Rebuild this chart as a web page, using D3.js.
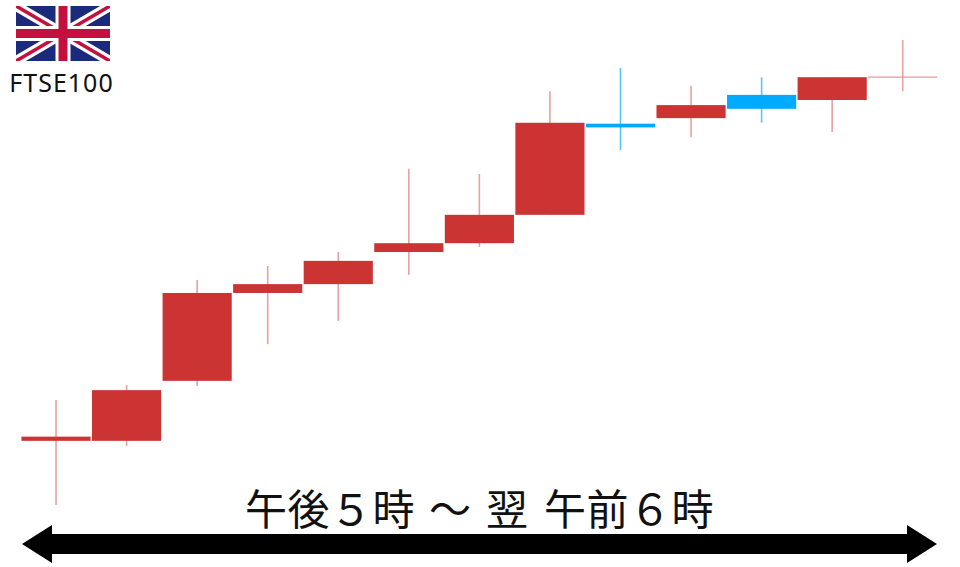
<!DOCTYPE html>
<html>
<head>
<meta charset="utf-8">
<script src="https://cdn.jsdelivr.net/npm/d3@7"></script>
<style>
  html, body { margin: 0; padding: 0; background: #fff; }
</style>
</head>
<body>
<div class="canvas"></div>
<script>
// candle values (index level, no axis in the original)
const categories = ['17', '18', '19', '20', '21', '22', '23', '0', '1', '2', '3', '4', '5'];
const opens  = [13.8, 13.8, 26.7, 45.6, 47.5, 54.4, 56.3, 62.4, 82.0, 83.2, 88.2, 87.1, 92.0];
const closes = [14.7, 24.7, 45.6, 47.5, 52.5, 56.3, 62.4, 82.2, 81.2, 86.0, 85.2, 92.0, 92.0];
const highs  = [22.6, 25.8, 48.4, 51.4, 54.4, 72.3, 71.2, 89.0, 94.0, 90.1, 92.0, 92.0, 100];
const lows   = [0, 12.7, 25.6, 34.6, 39.6, 49.5, 55.5, 62.4, 76.3, 79.1, 82.2, 80.2, 89.0];

const flagLabel = 'FTSE100';
const periodWords = ['午後５時', '～', '翌', '午前６時'];
const periodStarts = [245, 429, 486, 544];

// dimensions
const dims = { width: 960, height: 567 };

// colours
const upColor = '#cc3333';
const downColor = '#00aaff';
const upWick = '#e8a0a0';
const downWick = '#55c6ff';

// svg container
const svg = d3.select('.canvas')
    .append('svg')
    .attr('width', dims.width)
    .attr('height', dims.height)
    .style('display', 'block');

// scales
const x = d3.scaleBand()
    .domain(categories)
    .range([20.75, 938])
    .paddingInner(0.02)
    .paddingOuter(0.01);

const y = d3.scaleLinear()
    .domain([0, 100])
    .range([505, 40]);

const candles = categories.map((c, i) => ({
    cat: c, open: opens[i], close: closes[i], high: highs[i], low: lows[i]
}));

const graph = svg.append('g');

// wicks go under the bodies
graph.selectAll('line.wick')
    .data(candles)
    .enter()
    .append('line')
        .attr('class', 'wick')
        .attr('x1', d => x(d.cat) + x.bandwidth() / 2)
        .attr('x2', d => x(d.cat) + x.bandwidth() / 2)
        .attr('y1', d => y(d.high))
        .attr('y2', d => y(d.low))
        .attr('stroke', d => d.close < d.open ? downWick : upWick)
        .attr('stroke-width', 1.6);

// bodies, a flat candle is only a thin line
graph.selectAll('rect.body')
    .data(candles.filter(d => d.open !== d.close))
    .enter()
    .append('rect')
        .attr('class', 'body')
        .attr('x', d => x(d.cat))
        .attr('width', x.bandwidth())
        .attr('y', d => y(Math.max(d.open, d.close)))
        .attr('height', d => Math.abs(y(d.open) - y(d.close)))
        .attr('fill', d => d.close < d.open ? downColor : upColor);

graph.selectAll('line.flat')
    .data(candles.filter(d => d.open === d.close))
    .enter()
    .append('line')
        .attr('class', 'flat')
        .attr('x1', d => x(d.cat))
        .attr('x2', d => x(d.cat) + x.bandwidth())
        .attr('y1', d => y(d.open))
        .attr('y2', d => y(d.open))
        .attr('stroke', '#e39c9c')
        .attr('stroke-width', 1.3);

// union jack
const fw = 94, fh = 55;
const flag = svg.append('g').attr('transform', 'translate(16, 6)');

svg.append('clipPath')
    .attr('id', 'flag-clip')
    .append('rect')
        .attr('width', fw)
        .attr('height', fh);

const flagInner = flag.append('g').attr('clip-path', 'url(#flag-clip)');

flagInner.append('rect').attr('width', fw).attr('height', fh).attr('fill', '#1b2a7b');

const diagonals = [[0, 0, fw, fh], [0, fh, fw, 0]];
flagInner.selectAll('line.white')
    .data(diagonals)
    .enter()
    .append('line')
        .attr('class', 'white')
        .attr('x1', d => d[0]).attr('y1', d => d[1])
        .attr('x2', d => d[2]).attr('y2', d => d[3])
        .attr('stroke', '#fff')
        .attr('stroke-width', 10);
flagInner.selectAll('line.red')
    .data(diagonals)
    .enter()
    .append('line')
        .attr('class', 'red')
        .attr('x1', d => d[0]).attr('y1', d => d[1])
        .attr('x2', d => d[2]).attr('y2', d => d[3])
        .attr('stroke', '#c4103f')
        .attr('stroke-width', 3.6);

flagInner.append('rect').attr('x', fw / 2 - 7.5).attr('width', 15).attr('height', fh).attr('fill', '#fff');
flagInner.append('rect').attr('y', fh / 2 - 7.5).attr('width', fw).attr('height', 15).attr('fill', '#fff');
flagInner.append('rect').attr('x', fw / 2 - 4.5).attr('width', 9).attr('height', fh).attr('fill', '#c4103f');
flagInner.append('rect').attr('y', fh / 2 - 4.5).attr('width', fw).attr('height', 9).attr('fill', '#c4103f');

svg.append('text')
    .attr('x', 61.5)
    .attr('y', 92)
    .attr('text-anchor', 'middle')
    .attr('font-family', '"Noto Sans", sans-serif')
    .attr('font-size', 25)
    .attr('letter-spacing', 1)
    .attr('fill', '#111')
    .text(flagLabel);

// time span label, the gaps are wider than a plain space
svg.append('text')
    .attr('y', 525)
    .attr('font-family', '"Noto Sans CJK JP", sans-serif')
    .attr('font-size', 42)
    .attr('letter-spacing', 0.5)
    .attr('fill', '#111')
    .selectAll('tspan')
    .data(periodWords)
    .enter()
    .append('tspan')
        .attr('x', (d, i) => periodStarts[i])
        .text(d => d);

// double headed arrow under the candles
const ax0 = 22, ax1 = 937, head = 30, headTop = 525, headBot = 563, shaftTop = 534, shaftBot = 554;
const arrow = d3.path();
arrow.moveTo(ax0, (headTop + headBot) / 2);
arrow.lineTo(ax0 + head, headTop);
arrow.lineTo(ax0 + head, shaftTop);
arrow.lineTo(ax1 - head, shaftTop);
arrow.lineTo(ax1 - head, headTop);
arrow.lineTo(ax1, (headTop + headBot) / 2);
arrow.lineTo(ax1 - head, headBot);
arrow.lineTo(ax1 - head, shaftBot);
arrow.lineTo(ax0 + head, shaftBot);
arrow.lineTo(ax0 + head, headBot);
arrow.closePath();

svg.append('path')
    .attr('d', arrow.toString())
    .attr('fill', '#000');
</script>
</body>
</html>
